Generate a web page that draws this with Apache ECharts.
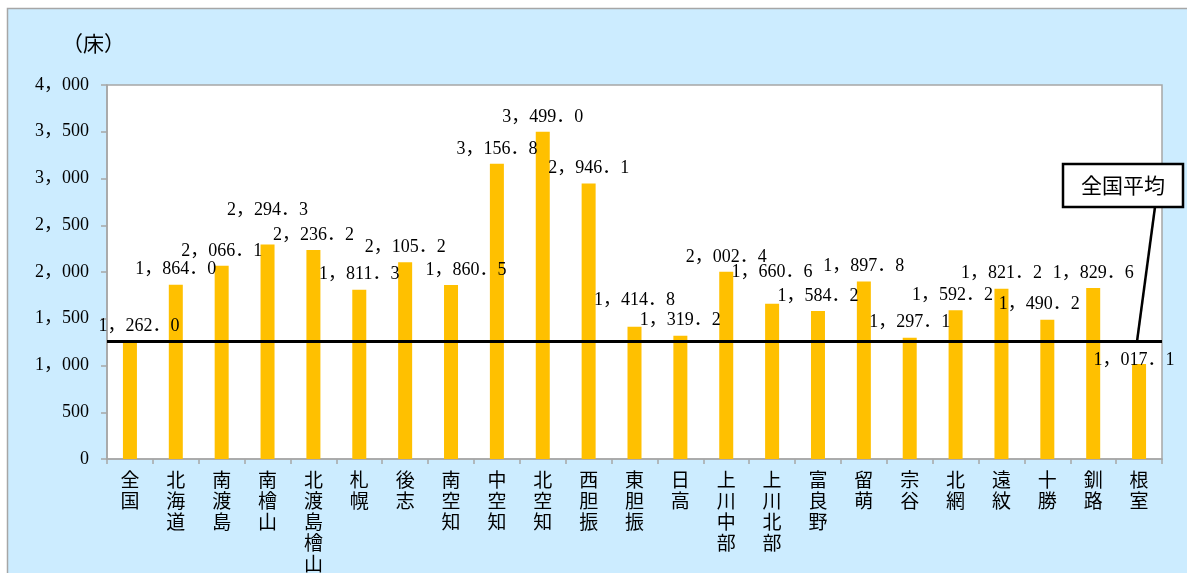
<!DOCTYPE html>
<html>
<head>
<meta charset="utf-8">
<script src="https://cdn.jsdelivr.net/npm/echarts@6/dist/echarts.min.js"></script>
<style>
  html, body { margin: 0; padding: 0; background: #fff; }
  #main { width: 1187px; height: 573px; }
</style>
</head>
<body>
<div id="main"></div>
<script>
'use strict';

// data
var areas = ['全国', '北海道', '南渡島', '南檜山', '北渡島檜山', '札幌', '後志', '南空知', '中空知', '北空知', '西胆振',
  '東胆振', '日高', '上川中部', '上川北部', '富良野', '留萌', '宗谷', '北網', '遠紋', '十勝', '釧路', '根室'];
var beds = [1262.0, 1864.0, 2066.1, 2294.3, 2236.2, 1811.3, 2105.2, 1860.5, 3156.8, 3499.0, 2946.1,
  1414.8, 1319.2, 2002.4, 1660.6, 1584.2, 1897.8, 1297.1, 1592.2, 1821.2, 1490.2, 1829.6, 1017.1];
var nationalAvg = 1262.0;
var yTicks = [0, 500, 1000, 1500, 2000, 2500, 3000, 3500, 4000];
var unitLabel = '（床）';
var avgLabel = '全国平均';

// label nudges so they sit like the original
var labelShift = {
  '全国': [9, 0], '南檜山': [0, -19], '東胆振': [0, -11], '上川北部': [0, -16],
  '南空知': [15, 0], '十勝': [-8, 0], '北網': [-3, 0], '根室': [-5, 11]
};

var FONT = '"Liberation Serif", "DejaVu Serif", "Noto Sans CJK JP", serif';

function fmt(v, dec) {
  var s = v.toFixed(dec);
  var parts = s.split('.');
  var intPart = parts[0].replace(/\B(?=(\d{3})+(?!\d))/g, '，');
  return dec ? intPart + '．' + parts[1] : intPart;
}

var chart = echarts.init(document.getElementById('main'));

var barData = beds.map(function (v, i) {
  var sh = labelShift[areas[i]];
  var item = { value: v };
  if (sh) item.label = { offset: sh };
  return item;
});

var option = {
  backgroundColor: '#fff',
  animation: false,
  graphic: [
    {
      id: 'bg', type: 'rect', z: -10, silent: true,
      shape: { x: 7.5, y: 8.5, width: 1200, height: 600 },
      style: { fill: '#CCECFF', stroke: '#A6A6A6', lineWidth: 1.5 }
    },
    {
      id: 'unit', type: 'text', left: 62, top: 35,
      style: { text: unitLabel, font: '21px ' + FONT, fill: '#000' }
    }
  ],
  grid: {
    left: 107, right: 25, top: 85, bottom: 114,
    outerBoundsMode: 'none',
    show: true, backgroundColor: '#fff', borderColor: '#A6A6A6', borderWidth: 1.5
  },
  xAxis: {
    type: 'category',
    data: areas,
    axisLine: { lineStyle: { color: '#A6A6A6', width: 1.5 } },
    axisTick: { show: true, length: 5, lineStyle: { color: '#A6A6A6', width: 1.5 } },
    axisLabel: {
      interval: 0, margin: 13,
      color: '#000', fontSize: 19, fontFamily: FONT, lineHeight: 21,
      formatter: function (v) { return v.split('').join('\n'); }
    }
  },
  yAxis: {
    type: 'value',
    min: yTicks[0], max: yTicks[yTicks.length - 1], interval: yTicks[1] - yTicks[0],
    splitLine: { show: false },
    axisLine: { show: true, lineStyle: { color: '#A6A6A6', width: 1.5 } },
    axisTick: { show: true, length: 6, lineStyle: { color: '#A6A6A6', width: 1.5 } },
    axisLabel: {
      margin: 18, color: '#000', fontSize: 18, fontFamily: FONT,
      formatter: function (v) { return fmt(v, 0); }
    }
  },
  series: [{
    type: 'bar',
    data: barData,
    barWidth: 14,
    itemStyle: { color: '#FFC000' },
    label: {
      show: true, position: 'top', distance: 6,
      color: '#000', fontSize: 18, fontFamily: FONT,
      formatter: function (p) { return fmt(p.value, 1); }
    },
    markLine: {
      silent: true, symbol: 'none',
      label: { show: false },
      lineStyle: { color: '#000', width: 3, type: 'solid' },
      data: [{ yAxis: nationalAvg }]
    }
  }]
};

chart.setOption(option);

// callout box for the national average, pointer ends on the average line
var end = chart.convertToPixel({ xAxisIndex: 0, yAxisIndex: 0 }, [areas[areas.length - 1], nationalAvg]);
var boxX = 1063, boxY = 164, boxW = 120, boxH = 43;
chart.setOption({
  graphic: [
    {
      id: 'pointer', type: 'line', z: 20,
      shape: { x1: boxX + 92, y1: boxY + boxH, x2: end[0] - 2, y2: end[1] },
      style: { stroke: '#000', lineWidth: 2.5 }
    },
    {
      id: 'box', type: 'rect', z: 21,
      shape: { x: boxX, y: boxY, width: boxW, height: boxH },
      style: { fill: '#fff', stroke: '#000', lineWidth: 2.5 }
    },
    {
      id: 'boxText', type: 'text', z: 22, x: boxX + boxW / 2, y: boxY + boxH / 2,
      style: { text: avgLabel, font: '21px "Noto Sans CJK JP", sans-serif', fill: '#000', align: 'center', verticalAlign: 'middle' }
    }
  ]
});

window.addEventListener('resize', function () { chart.resize(); });
</script>
</body>
</html>
